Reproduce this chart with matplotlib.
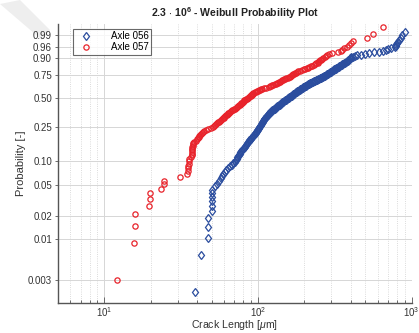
import numpy as np
import matplotlib
matplotlib.use('Agg')
import matplotlib.pyplot as plt
import matplotlib.ticker as ticker
from matplotlib.patches import Polygon

plt.rcParams['font.family'] = ['Liberation Sans', 'DejaVu Sans']
plt.rcParams['mathtext.fontset'] = 'custom'
plt.rcParams['mathtext.rm'] = 'Liberation Sans'
plt.rcParams['mathtext.it'] = 'Liberation Sans:italic'
plt.rcParams['mathtext.bf'] = 'Liberation Sans:bold'

# crack lengths [um], sorted
axle_056 = [
    39.1, 42.7, 47.0, 47.2, 47.2, 49.9, 50.0, 50.0, 50.1, 50.1,
    50.3, 52.2, 54.4, 55.7, 57.0, 58.0, 58.9, 60.7, 62.0, 63.5,
    65.4, 67.2, 69.0, 70.7, 71.7, 72.5, 73.4, 74.3, 75.1, 75.8,
    76.8, 77.7, 78.8, 79.7, 80.7, 81.7, 82.5, 83.5, 84.4, 85.3,
    86.2, 87.0, 87.9, 88.8, 89.8, 90.6, 91.4, 92.4, 93.2, 94.2,
    94.9, 95.8, 96.6, 97.5, 98.3, 98.8, 99.6, 100.2, 100.8, 101.4,
    102.0, 102.6, 103.4, 104.0, 104.5, 105.1, 105.6, 106.2, 106.7, 107.2,
    107.7, 108.3, 108.8, 109.3, 109.8, 110.3, 111.0, 111.8, 112.5, 113.5,
    114.4, 115.2, 115.9, 116.8, 117.7, 118.5, 119.2, 119.9, 120.8, 121.9,
    123.0, 123.9, 125.1, 126.2, 127.2, 128.3, 129.3, 130.4, 131.6, 132.8,
    133.6, 135.0, 136.0, 137.3, 138.3, 139.4, 140.4, 141.5, 142.7, 143.8,
    144.9, 146.0, 147.3, 148.4, 150.1, 151.2, 152.6, 153.7, 155.1, 156.3,
    157.5, 158.9, 160.1, 161.5, 162.8, 164.2, 165.5, 166.7, 168.0, 169.2,
    170.8, 172.1, 173.6, 174.9, 176.2, 177.3, 178.1, 179.7, 181.6, 183.3,
    184.9, 186.3, 187.9, 189.6, 191.6, 193.4, 194.8, 196.6, 198.4, 200.5,
    201.7, 203.8, 205.7, 207.5, 209.7, 211.0, 213.2, 215.5, 217.4, 219.4,
    222.0, 224.7, 227.4, 230.2, 232.3, 235.1, 237.9, 240.8, 243.7, 246.7,
    248.9, 251.9, 255.0, 258.1, 261.6, 264.7, 267.5, 270.0, 272.4, 274.9,
    277.4, 279.9, 282.8, 285.4, 288.0, 290.6, 293.2, 296.7, 299.4, 302.1,
    304.8, 307.6, 311.3, 314.1, 317.0, 320.8, 323.7, 327.6, 330.6, 334.6,
    338.6, 342.2, 346.4, 350.0, 354.3, 358.5, 362.9, 367.2, 371.7, 376.2,
    380.2, 383.6, 387.1, 390.0, 394.1, 397.7, 401.3, 405.5, 412.9, 426.1,
    442.5, 467.8, 498.3, 530.7, 569.5, 612.9, 649.9, 677.2, 704.8, 737.2,
    775.8, 786.5, 794.8, 805.6, 815.3, 828.8, 846.5, 868.5, 900.3, 1150.0,
]

axle_057 = [
    12.1, 15.5, 15.9, 15.9, 19.4, 19.7, 19.7, 23.2, 24.4, 24.4,
    30.9, 34.6, 34.8, 35.0, 35.1, 35.3, 35.5, 35.6, 36.4, 37.0,
    37.0, 37.1, 37.2, 37.3, 37.4, 37.5, 37.6, 37.7, 38.4, 39.2,
    39.8, 40.4, 41.0, 41.4, 42.0, 42.6, 43.3, 43.9, 44.6, 45.6,
    47.3, 49.2, 51.0, 51.8, 52.6, 53.4, 54.2, 55.0, 55.8, 56.7,
    57.5, 58.2, 58.9, 59.7, 60.4, 61.2, 62.0, 62.7, 63.5, 64.1,
    64.9, 65.6, 66.4, 67.4, 68.4, 69.4, 70.5, 71.6, 72.4, 73.4,
    74.5, 75.5, 76.3, 77.1, 77.8, 78.5, 79.3, 80.0, 80.7, 81.3,
    82.2, 83.2, 84.4, 85.4, 86.6, 87.6, 88.6, 89.4, 89.9, 90.7,
    91.3, 92.0, 93.2, 94.8, 96.6, 98.1, 100.0, 101.7, 103.4, 104.8,
    106.2, 108.8, 112.5, 117.0, 119.9, 122.1, 124.1, 126.0, 128.3, 130.4,
    132.8, 134.6, 136.9, 138.7, 141.1, 143.0, 145.4, 147.8, 150.5, 153.0,
    156.0, 158.4, 161.3, 163.5, 165.5, 167.2, 169.5, 171.5, 173.6, 176.0,
    178.1, 182.8, 188.5, 194.6, 198.7, 203.4, 207.2, 211.0, 215.8, 220.7,
    224.7, 229.9, 235.1, 240.1, 244.1, 247.4, 250.8, 254.6, 258.1, 262.0,
    266.3, 270.8, 274.9, 280.2, 289.2, 302.6, 330.6, 346.1, 354.3, 363.9,
    379.6, 390.6, 404.3, 416.9, 509.9, 562.6, 653.9,
]

prob_ticks = [0.003, 0.01, 0.02, 0.05, 0.10, 0.25, 0.50, 0.75, 0.90, 0.96, 0.99]
prob_labels = ['0.003', '0.01', '0.02', '0.05', '0.10', '0.25', '0.50',
               '0.75', '0.90', '0.96', '0.99']


def weibull_fwd(p):
    p = np.clip(p, 1e-12, 1 - 1e-12)
    return np.log(-np.log(1 - p))


def weibull_inv(t):
    return 1 - np.exp(-np.exp(t))


def plot_pos(data):
    # median-rank style plotting positions, like probplot
    x = np.sort(np.asarray(data))
    n = len(x)
    return x, (np.arange(1, n + 1) - 0.5) / n


fig = plt.figure(figsize=(4.19, 3.33), dpi=100)

# faint grey stripe from the scanned page, top-left corner
stripe = Polygon([(0 / 419, 1 - 4 / 333), (20 / 419, 1.0),
                  (50 / 419, 1 - 30 / 333), (42 / 419, 1 - 40 / 333)],
                 closed=True, transform=fig.transFigure,
                 facecolor='#eeeeee', edgecolor='none', zorder=-5)
fig.patches.append(stripe)

ax = fig.add_axes([0.139, 0.091, 0.8435, 0.837])
ax.set_zorder(1)
ax.patch.set_alpha(0)
ax.set_xscale('log')
ax.set_yscale('function', functions=(weibull_fwd, weibull_inv))

x56, p56 = plot_pos(axle_056)
x57, p57 = plot_pos(axle_057)
ax.plot(x56, p56, linestyle='none', marker='d', markersize=4.4,
        markerfacecolor='none', markeredgecolor='#2b4d9e',
        markeredgewidth=0.9, label='Axle 056', zorder=3)
ax.plot(x57, p57, linestyle='none', marker='o', markersize=3.8,
        markerfacecolor='none', markeredgecolor='#e8232b',
        markeredgewidth=0.9, label='Axle 057', zorder=3)

ax.set_xlim(5, 1000)
ax.set_ylim(0.0015, 0.99835)

ax.yaxis.set_major_locator(ticker.FixedLocator(prob_ticks))
ax.yaxis.set_major_formatter(ticker.FixedFormatter(prob_labels))
ax.yaxis.set_minor_locator(ticker.NullLocator())
ax.xaxis.set_major_locator(ticker.LogLocator(base=10))
ax.xaxis.set_minor_locator(ticker.LogLocator(base=10, subs=np.arange(2, 10)))
ax.xaxis.set_minor_formatter(ticker.NullFormatter())

ax.grid(True, which='major', color='#d6d6d6', linewidth=0.7, linestyle='-')
ax.grid(True, which='minor', axis='x', color='#cfcfcf', linewidth=0.6,
        linestyle=':')
ax.set_axisbelow(True)

for side in ['top', 'right']:
    ax.spines[side].set_visible(False)
for side in ['left', 'bottom']:
    ax.spines[side].set_color('#555555')
    ax.spines[side].set_linewidth(1.0)

ax.tick_params(axis='both', which='both', labelsize=7, colors='#555555',
               labelcolor='#333333', width=0.6)
ax.tick_params(axis='x', which='major', direction='in', length=4, pad=2)
ax.tick_params(axis='x', which='minor', direction='in', length=2.5)
ax.tick_params(axis='y', which='major', direction='out', length=2.5, pad=2)

ax.set_title('2.3 $\\cdot$ 10$^{\\mathbf{6}}$ - Weibull Probability Plot',
             fontsize=7.6, fontweight='bold', color='#222222', pad=5)
ax.set_xlabel('Crack Length [$\\mu$m]', fontsize=7.6, color='#333333')
ax.xaxis.set_label_coords(0.5, -0.056)
ax.set_ylabel('Probability [-]', fontsize=8, color='#333333', labelpad=1)

leg = ax.legend(loc='upper left', bbox_to_anchor=(0.042, 0.983),
                borderaxespad=0, fontsize=7, frameon=True, fancybox=False,
                handletextpad=1.4, borderpad=0.25, labelspacing=0.1,
                handlelength=2.2)
leg.get_frame().set_edgecolor('#444444')
leg.get_frame().set_linewidth(0.8)

fig.savefig('out.png', dpi=100)
